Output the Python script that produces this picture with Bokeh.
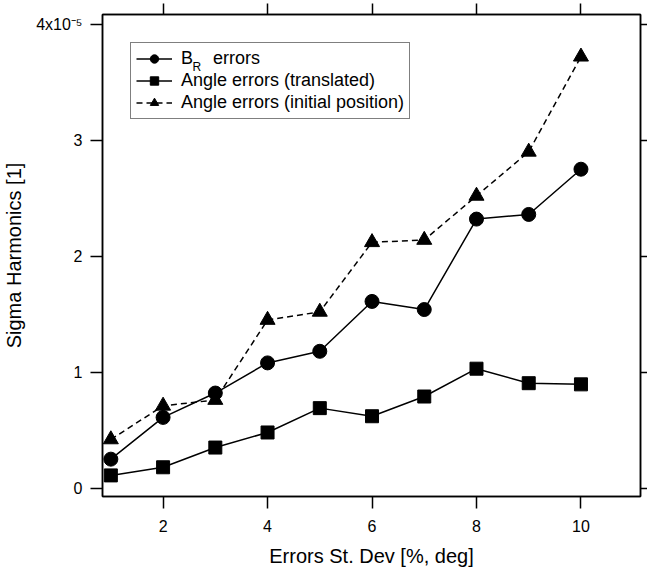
from bokeh.plotting import figure
from bokeh.models import (LinearAxis, FixedTicker, Range1d, Legend, LegendItem,
                          Label, CustomJSTickFormatter, CustomLabelingPolicy)
from bokeh.embed import file_html
from bokeh.resources import INLINE

# ---- data (values in units of 1e-5) ----
x_vals = [1, 2, 3, 4, 5, 6, 7, 8, 9, 10]
br_errors = [0.25, 0.61, 0.82, 1.08, 1.18, 1.61, 1.54, 2.32, 2.36, 2.75]
angle_translated = [0.11, 0.18, 0.35, 0.48, 0.69, 0.62, 0.79, 1.03, 0.905, 0.895]
angle_initial = [0.42, 0.71, 0.76, 1.45, 1.52, 2.12, 2.14, 2.52, 2.90, 3.72]
x_ticks = [2, 4, 6, 8, 10]
y_ticks = [0, 1, 2, 3, 4]

FONT = "Liberation Sans"
X0, X1 = 0.84, 11.14
Y0, Y1 = -0.072, 4.084
FW, FH = 538, 482  # frame size in pixels

p = figure(width=647, height=569, output_backend="svg", toolbar_location=None,
           x_range=Range1d(X0, X1), y_range=Range1d(Y0, Y1),
           x_axis_type=None, y_axis_type=None,
           min_border_left=102, min_border_right=7, min_border_top=14,
           min_border_bottom=73)
p.xgrid.visible = False
p.ygrid.visible = False
p.outline_line_color = "black"
p.outline_line_width = 1.5
p.background_fill_color = "white"
p.border_fill_color = "white"

yfmt = CustomJSTickFormatter(code="return tick == 4 ? '4x10\\u207B\\u2075' : tick.toFixed(0);")
hide_all = CustomLabelingPolicy(code="for (const i of indices) { indices.unset(i) } return indices")

def style(ax, tick_out, labels=True):
    ax.axis_line_color = "black"
    ax.axis_line_width = 1.5
    ax.major_tick_line_color = "black"
    ax.major_tick_line_width = 1.5
    ax.major_tick_out = tick_out
    ax.major_tick_in = 0
    ax.minor_tick_line_color = None
    ax.major_label_text_font = FONT
    ax.major_label_text_color = "black"
    ax.axis_label_text_font = FONT
    ax.axis_label_text_font_style = "normal"
    ax.axis_label_text_color = "black"
    if not labels:
        ax.major_label_policy = hide_all
        ax.major_label_text_font_size = "0px"
        ax.major_label_standoff = 0

bottom = LinearAxis(ticker=FixedTicker(ticks=x_ticks), axis_label="Errors St. Dev [%, deg]")
style(bottom, 12)
bottom.major_label_text_font_size = "16px"
bottom.major_label_standoff = 11
bottom.axis_label_text_font_size = "20px"
bottom.axis_label_standoff = 10
p.add_layout(bottom, "below")

left = LinearAxis(ticker=FixedTicker(ticks=y_ticks), formatter=yfmt,
                  axis_label="Sigma Harmonics [1]")
style(left, 12)
left.major_label_text_font_size = "16px"
left.major_label_standoff = 8
left.axis_label_text_font_size = "20px"
left.axis_label_standoff = 8
p.add_layout(left, "left")

top = LinearAxis(ticker=FixedTicker(ticks=x_ticks))
style(top, 11, labels=False)
p.add_layout(top, "above")

right = LinearAxis(ticker=FixedTicker(ticks=y_ticks))
style(right, 7, labels=False)
p.add_layout(right, "right")

# ---- series ----
l1 = p.line(x_vals, br_errors, line_color="black", line_width=1.5)
m1 = p.scatter(x_vals, br_errors, marker="circle", size=14, fill_color="black", line_color="black")

l2 = p.line(x_vals, angle_translated, line_color="black", line_width=1.5)
m2 = p.scatter(x_vals, angle_translated, marker="square", size=13, fill_color="black", line_color="black")

l3 = p.line(x_vals, angle_initial, line_color="black", line_width=1.5, line_dash="6 4")
m3 = p.scatter(x_vals, angle_initial, marker="triangle", size=15, fill_color="black", line_color="black")

legend = Legend(items=[
    LegendItem(label="B    errors", renderers=[l1, m1]),
    LegendItem(label="Angle errors (translated)", renderers=[l2, m2]),
    LegendItem(label="Angle errors (initial position)", renderers=[l3, m3]),
], location=(28, 377))
legend.border_line_color = "black"
legend.border_line_width = 1.5
legend.padding = 5
legend.spacing = 1
legend.margin = 0
legend.glyph_width = 36
legend.glyph_height = 21
legend.label_height = 21
legend.label_standoff = 9
legend.label_text_font = FONT
legend.label_text_font_size = "18px"
legend.label_text_color = "black"
legend.background_fill_color = None
p.add_layout(legend, "center")

def px_to_data(px, py):
    """pixel offset from the frame's top-left corner -> data coordinates"""
    return X0 + px / FW * (X1 - X0), Y1 - py / FH * (Y1 - Y0)

# subscript "R" of the first legend label
sx, sy = px_to_data(90, 52)
p.add_layout(Label(x=sx, y=sy, text="R", text_font=FONT, text_font_size="12px",
                   text_color="black", text_baseline="alphabetic", level="overlay"))

open("out.html", "w").write(file_html(p, INLINE))
